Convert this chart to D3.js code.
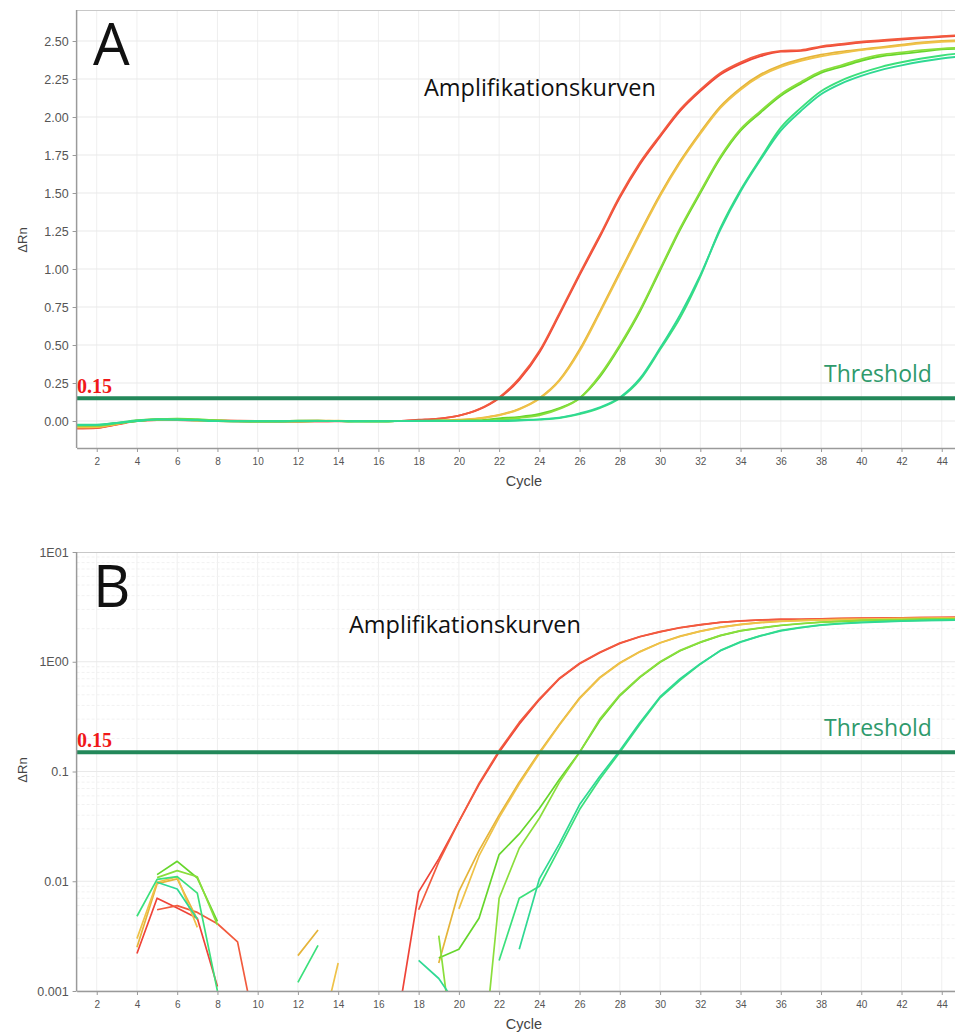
<!DOCTYPE html>
<html><head><meta charset="utf-8">
<script src="https://cdn.jsdelivr.net/npm/d3@7"></script>
<style>body{margin:0;background:#fff}svg{display:block}</style>
</head><body>
<svg id="c" width="955" height="1035"></svg>
<script>
// ---- data (cycles 1..45) ----
const cycles = d3.range(1, 46);
const red1 = [-0.047,-0.044,-0.022,0.0022,0.007,0.0057,0.0046,0.0011,-0.002,-0.003,-0.003,-0.002,-0.002,-0.001,-0.001,-0.0005,0.0006,0.008,0.016,0.035,0.076,0.15,0.27,0.45,0.70,0.96,1.21,1.47,1.69,1.87,2.04,2.17,2.28,2.35,2.40,2.43,2.435,2.46,2.475,2.49,2.50,2.51,2.52,2.528,2.535];
const red2 = [-0.05,-0.046,-0.024,-0.001,0.0055,0.006,0.0052,0.0041,0.0028,0.00035,-0.002,-0.003,-0.002,-0.002,-0.001,-0.001,-0.001,0.0055,0.015,0.035,0.078,0.155,0.28,0.46,0.71,0.97,1.22,1.48,1.70,1.88,2.05,2.18,2.29,2.36,2.41,2.435,2.44,2.465,2.48,2.495,2.505,2.515,2.523,2.532,2.54];
const yellow1 = [-0.04,-0.038,-0.018,0.0025,0.0095,0.0105,0.0045,-0.001,-0.002,-0.003,-0.002,0.0021,0.0036,-0.001,-0.002,-0.002,-0.001,-0.001,0.0018,0.0081,0.019,0.04,0.08,0.15,0.27,0.47,0.72,0.98,1.24,1.49,1.71,1.90,2.07,2.19,2.28,2.34,2.38,2.41,2.43,2.445,2.46,2.475,2.49,2.50,2.505];
const yellow2 = [-0.042,-0.04,-0.02,0.003,0.0098,0.011,0.0038,-0.001,-0.002,-0.003,-0.002,-0.001,0.0003,0.0018,-0.001,-0.002,-0.001,-0.001,-0.0005,0.0056,0.017,0.038,0.077,0.146,0.265,0.46,0.71,0.97,1.23,1.48,1.70,1.89,2.06,2.18,2.27,2.33,2.37,2.40,2.42,2.44,2.455,2.47,2.485,2.495,2.50];
const lime1 = [-0.03,-0.03,-0.015,-0.001,0.0115,0.0152,0.0107,0.0043,-0.001,-0.002,-0.002,-0.002,-0.001,-0.001,-0.002,-0.002,-0.001,-0.001,0.002,0.0024,0.0046,0.0175,0.027,0.046,0.085,0.15,0.29,0.49,0.72,0.99,1.26,1.50,1.73,1.91,2.03,2.14,2.22,2.29,2.33,2.37,2.40,2.415,2.43,2.445,2.45];
const lime2 = [-0.028,-0.028,-0.014,-0.001,0.0108,0.0125,0.011,0.004,-0.001,-0.002,-0.002,-0.002,-0.001,-0.001,-0.002,-0.002,-0.001,-0.001,0.0032,0.00012,0.0001,0.007,0.02,0.0375,0.08,0.15,0.30,0.50,0.73,1.00,1.27,1.51,1.74,1.92,2.04,2.15,2.23,2.30,2.34,2.38,2.41,2.425,2.44,2.45,2.455];
const green1 = [-0.025,-0.025,-0.012,0.0048,0.0104,0.011,0.0078,0.001,-0.002,-0.002,-0.002,0.0012,0.0026,-0.001,-0.002,-0.002,-0.001,-0.001,-0.001,-0.001,-0.001,0.0019,0.007,0.009,0.02,0.045,0.085,0.15,0.27,0.47,0.68,0.95,1.27,1.52,1.73,1.93,2.06,2.17,2.24,2.29,2.33,2.36,2.385,2.405,2.42];
const green2 = [-0.026,-0.026,-0.013,-0.001,0.0098,0.0085,0.0045,-0.001,-0.002,-0.002,-0.002,-0.001,-0.001,-0.001,-0.002,-0.002,-0.001,0.0019,0.0013,0.0007,-0.001,-0.0005,0.0024,0.0105,0.022,0.05,0.09,0.155,0.28,0.48,0.70,0.96,1.26,1.51,1.72,1.91,2.04,2.15,2.22,2.27,2.31,2.34,2.365,2.385,2.40];
const seriesNames = ["red1","red2","yellow1","yellow2","lime1","lime2","green1","green2"];
const seriesValues = [red1, red2, yellow1, yellow2, lime1, lime2, green1, green2];
const xTickValues = d3.range(2, 46, 2);
const linTickValues = [0, 0.25, 0.5, 0.75, 1.0, 1.25, 1.5, 1.75, 2.0, 2.25, 2.5];
const logTickValues = [0.001, 0.01, 0.1, 1, 10];
const logTickLabels = ["0.001", "0.01", "0.1", "1E00", "1E01"];
const threshold = 0.15;

// ---- styles ----
const colors = ["#ef4338", "#f25b3e", "#e5b43a", "#efc248", "#66d62c", "#8ade3c", "#3be07c", "#2fd994"];
const svg = d3.select("#c");
const W = 955;
const x = d3.scaleLinear().domain([1, 45]).range([76.6, 76.6 + 44 * 20.12]);

function panel(opt) {
  const g = svg.append("g");
  const y = opt.y;
  const [yb, yt] = y.range();
  const clipId = "clip" + opt.id;
  svg.append("clipPath").attr("id", clipId).append("rect")
    .attr("x", x(1)).attr("y", yt).attr("width", W - x(1)).attr("height", yb - yt);

  // grid
  const grid = g.append("g").attr("clip-path", `url(#${clipId})`);
  grid.selectAll("line.v").data(xTickValues).join("line")
    .attr("x1", d => x(d)).attr("x2", d => x(d)).attr("y1", yt).attr("y2", yb)
    .attr("stroke", "#efefef").attr("stroke-width", 1);
  grid.selectAll("line.h").data(opt.gridY).join("line")
    .attr("x1", x(1)).attr("x2", W).attr("y1", d => y(d)).attr("y2", d => y(d))
    .attr("stroke", d => opt.major(d) ? "#e9e9e9" : "#f1f1f1")
    .attr("stroke-dasharray", d => opt.major(d) ? null : "3,2")
    .attr("stroke-width", 1);

  // top border
  g.append("line").attr("x1", x(1)).attr("x2", W).attr("y1", yt + 0.5).attr("y2", yt + 0.5)
    .attr("stroke", "#c8c8c8");

  // curves
  const line = d3.line()
    .defined(d => opt.log ? d[1] > 0 : true)
    .curve(opt.log ? d3.curveLinear : d3.curveMonotoneX)
    .x(d => x(d[0])).y(d => y(d[1]));
  const curves = g.append("g").attr("clip-path", `url(#${clipId})`);
  curves.selectAll("path").data(seriesValues).join("path")
    .attr("d", vals => line(cycles.map((c, i) => [c, vals[i]])))
    .attr("fill", "none")
    .attr("stroke", (d, i) => colors[i])
    .attr("stroke-width", opt.log ? 1.7 : 1.9)
    .attr("stroke-linejoin", "round");

  // threshold
  g.append("line").attr("x1", x(1)).attr("x2", W)
    .attr("y1", y(threshold)).attr("y2", y(threshold))
    .attr("stroke", "#23885a").attr("stroke-width", 4);
  g.append("text").attr("x", x(1) + 0.5).attr("y", y(threshold) - 5)
    .attr("font-family", "Liberation Serif, Times New Roman, serif").attr("font-weight", "bold")
    .attr("font-size", 20).attr("fill", "#f01818").text(threshold.toFixed(2));
  g.append("text").attr("x", 824).attr("y", y(threshold) - 16)
    .attr("font-family", "Open Sans, sans-serif").attr("font-size", 23)
    .attr("fill", "#2f9a6c").text("Threshold");

  // axes
  const ya = d3.axisLeft(y).tickValues(opt.ticks).tickSize(4).tickSizeOuter(0).tickFormat(opt.fmt);
  const yg = g.append("g").attr("transform", `translate(${x(1)},0)`).call(ya);
  const xa = d3.axisBottom(x).tickValues(xTickValues).tickSize(4).tickSizeOuter(0);
  const xg = g.append("g").attr("transform", `translate(0,${yb})`).call(xa);
  [yg, xg].forEach(a => {
    a.select(".domain").attr("stroke", "#9a9a9a").attr("stroke-width", 1.5);
    a.selectAll(".tick line").attr("stroke", "#9a9a9a");
    a.selectAll("text").attr("fill", "#555").attr("font-family", "Liberation Sans, Arial, sans-serif");
  });
  yg.selectAll("text").attr("font-size", 12.5).attr("x", -8);
  xg.selectAll("text").attr("font-size", 10).attr("y", 10);
  yg.select(".domain").attr("d", `M0,${yt}V${yb}`);

  g.append("text").attr("x", 524).attr("y", yb + 38).attr("text-anchor", "middle")
    .attr("font-family", "Liberation Sans, Arial, sans-serif").attr("font-size", 14.5).attr("fill", "#444").text("Cycle");
  g.append("text").attr("transform", `translate(27,${opt.labelY}) rotate(-90)`).attr("text-anchor", "middle")
    .attr("font-family", "Liberation Sans, Arial, sans-serif").attr("font-size", 13).attr("fill", "#444").text("ΔRn");

  g.append("text").attr("x", 93).attr("y", yt + 55)
    .attr("font-family", "Open Sans, sans-serif").attr("font-size", 58).attr("fill", "#111").text(opt.letter);
  g.append("text").attr("x", opt.titleX).attr("y", opt.titleY)
    .attr("font-family", "Open Sans, sans-serif").attr("font-size", 23.5).attr("fill", "#111").text("Amplifikationskurven");
}

const yA = d3.scaleLinear().domain([-0.1776, 2.704]).range([448, 10]);
panel({
  id: "A", y: yA, log: false, ticks: linTickValues, fmt: d3.format(".2f"),
  gridY: linTickValues, major: () => true, letter: "A", titleX: 424, titleY: 96, labelY: 240
});

const yB = d3.scaleLog().domain([0.001, 10]).range([991, 552]);
const minorB = [];
[0.001, 0.01, 0.1, 1].forEach(b => d3.range(1, 10).forEach(k => minorB.push(b * k)));
minorB.push(10);
panel({
  id: "B", y: yB, log: true, ticks: logTickValues, fmt: (d, i) => logTickLabels[i],
  gridY: minorB, major: d => logTickValues.some(v => Math.abs(v - d) < 1e-9), letter: "B", titleX: 349, titleY: 633, labelY: 770
});
</script>
</body></html>
